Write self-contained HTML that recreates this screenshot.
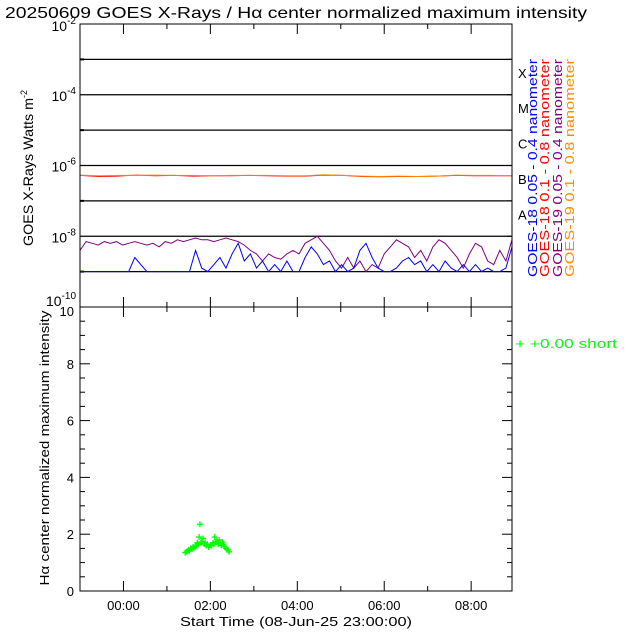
<!DOCTYPE html>
<html><head><meta charset="utf-8"><style>
body{margin:0;background:#fff;}
svg{display:block;font-family:"Liberation Sans","DejaVu Sans",sans-serif;}
</style></head><body>
<svg id="chart" width="640" height="640" viewBox="0 0 640 640">
<rect width="640" height="640" fill="#fff"/>
<text x="5" y="18" font-size="16" fill="#000" textLength="582" lengthAdjust="spacingAndGlyphs">20250609 GOES X-Rays / Hα center normalized maximum intensity</text>
<g id="topg"></g><g id="botg"></g>
<text transform="translate(33,246) rotate(-90)" font-size="14"><tspan textLength="148" lengthAdjust="spacingAndGlyphs">GOES X-Rays Watts m</tspan><tspan dy="-6" font-size="9">-2</tspan></text>
<text transform="translate(49,448) rotate(-90)" text-anchor="middle" font-size="13" textLength="275" lengthAdjust="spacingAndGlyphs">Hα center normalized maximum intensity</text>
<text x="296" y="626" text-anchor="middle" font-size="13" textLength="232" lengthAdjust="spacingAndGlyphs">Start Time (08-Jun-25 23:00:00)</text>
<text transform="translate(537,277) rotate(-90)" font-size="13" fill="#0000ff" textLength="218" lengthAdjust="spacingAndGlyphs">GOES-18 0.05 - 0.4 nanometer</text>
<text transform="translate(549,277) rotate(-90)" font-size="13" fill="#ff0000" textLength="218" lengthAdjust="spacingAndGlyphs">GOES-18 0.1  - 0.8 nanometer</text>
<text transform="translate(562,277) rotate(-90)" font-size="13" fill="#800080" textLength="218" lengthAdjust="spacingAndGlyphs">GOES-19 0.05 - 0.4 nanometer</text>
<text transform="translate(574,277) rotate(-90)" font-size="13" fill="#ff8c00" textLength="218" lengthAdjust="spacingAndGlyphs">GOES-19 0.1  - 0.8 nanometer</text>
<text x="515" y="348" font-size="13" fill="#00ff00" textLength="102" lengthAdjust="spacingAndGlyphs">+  +0.00 short</text>
</svg>
<script>
const purpleLog=[-8.4,-8.15,-8.2,-8.25,-8.15,-8.2,-8.15,-8.25,-8.2,-8.15,-8.2,-8.25,-8.2,-8.3,-8.15,-8.2,-8.1,-8.15,-8.1,-8.05,-8.1,-8.1,-8.15,-8.1,-8.05,-8.1,-8.15,-8.25,-8.4,-8.5,-8.7,-8.5,-8.6,-8.65,-8.5,-8.4,-8.5,-8.2,-8.1,-8.0,-8.2,-8.4,-8.7,-8.9,-8.6,-8.9,-8.7,-9.0,-8.8,-8.9,-8.5,-8.3,-8.1,-8.2,-8.3,-8.6,-8.4,-8.7,-8.3,-8.1,-8.2,-8.4,-8.6,-8.9,-8.5,-8.2,-8.3,-8.7,-8.8,-8.4,-8.7,-8.1];
const blueLog=[-9,-9,-9,-9,-9,-9,-9,-9,-9,-8.6,-8.8,-9,-9,-9,-9,-9,-9,-9,-9,-8.4,-8.9,-9,-8.8,-8.6,-8.9,-8.5,-8.2,-8.7,-8.5,-8.9,-8.7,-9,-8.8,-9,-8.7,-9,-9,-8.6,-8.3,-8.5,-8.8,-8.7,-9,-8.8,-9,-8.9,-8.4,-8.2,-8.6,-8.9,-9,-9,-8.9,-8.7,-8.6,-8.8,-8.7,-9,-8.8,-9,-8.7,-8.9,-9,-8.8,-9,-8.8,-9,-8.9,-9,-9,-8.9,-8.3];
const orangeLog=[-6.27,-6.29,-6.28,-6.28,-6.27,-6.28,-6.28,-6.29,-6.28,-6.28,-6.28,-6.29,-6.29,-6.26,-6.28,-6.3,-6.31,-6.3,-6.31,-6.3,-6.27,-6.28,-6.28,-6.29];
const redLog=[-6.28,-6.31,-6.3,-6.27,-6.29,-6.28,-6.3,-6.29,-6.29,-6.28,-6.29,-6.3,-6.3,-6.27,-6.28,-6.31,-6.32,-6.31,-6.31,-6.3,-6.28,-6.29,-6.29,-6.29];
const haTimes=[1.42,1.45,1.48,1.5,1.52,1.55,1.58,1.6,1.62,1.65,1.68,1.7,1.72,1.74,1.76,1.78,1.8,1.83,1.86,1.88,1.9,1.93,1.96,2.0,2.03,2.06,2.08,2.1,2.12,2.15,2.18,2.2,2.22,2.25,2.28,2.3,2.33,2.36,2.4,2.43];
const haVals=[1.35,1.38,1.4,1.45,1.42,1.5,1.48,1.55,1.52,1.58,1.6,1.7,1.65,1.9,2.35,1.7,1.72,1.85,1.65,1.7,1.6,1.65,1.55,1.62,1.6,1.7,1.65,1.9,1.72,1.75,1.65,1.8,1.7,1.6,1.72,1.65,1.55,1.5,1.45,1.38];
const xTickLabels=["00:00","02:00","04:00","06:00","08:00"];
const xTickHours=[0,2,4,6,8];
const yTickBot=[0,2,4,6,8,10];
const classLetters=["A","B","C","M","X"];

const NS="http://www.w3.org/2000/svg";
const L=80,R=512,T1=24,B1=307,T2=307,B2=591,T0=-1,TEND=8.94;
const xs=h=>L+(h-T0)/(TEND-T0)*(R-L);
const yTop=lg=>T1+(-2-lg)/8*(B1-T1);
const yBot=v=>B2-v/10*(B2-T2);
function mk(tag,attrs,parent){const e=document.createElementNS(NS,tag);for(const k in attrs)e.setAttribute(k,attrs[k]);parent.appendChild(e);return e;}
const topG=document.getElementById('topg'),botG=document.getElementById('botg');

for(let d=-9;d<=-3;d++){const l=mk('line',{x1:L,x2:R,y1:yTop(d),y2:yTop(d),stroke:'#000','stroke-width':1.3},topG);

}
[-2,-4,-6,-8,-10].forEach(d=>{const t=mk('text',{x:L-4,y:yTop(d)+(d==-2?7:(d==-10?-1:6)),'text-anchor':'end','font-size':14},topG);


t.innerHTML='10<tspan dy="-7" font-size="10">'+d+'</tspan>';});
[-3,-5,-7,-9].forEach(d=>{const l=mk('line',{x1:L,x2:L+4,y1:yTop(d),y2:yTop(d),stroke:'#000','stroke-width':2},topG);

});
classLetters.forEach((c,i)=>{const t=mk('text',{x:518,y:yTop(-8+i)-17,'font-size':13},topG);


t.textContent=c;});
function series(arr,color,name){const pts=arr.map((v,i)=>xs(T0+i*(TEND-T0)/(arr.length-1)).toFixed(1)+','+yTop(v).toFixed(1)).join(' ');
const p=mk('polyline',{points:pts,fill:'none',stroke:color,'stroke-width':1},topG);

}
series(purpleLog,'#800080','goes19-short-line');
series(blueLog,'#0000ff','goes18-short-line');
series(redLog,'#ff0000','goes18-long-line');
series(orangeLog,'#ff8c00','goes19-long-line');
const f1=mk('rect',{x:L,y:T1,width:R-L,height:B1-T1,fill:'none',stroke:'#000','stroke-width':1},topG);


const f2=mk('rect',{x:L,y:T2,width:R-L,height:B2-T2,fill:'none',stroke:'#000','stroke-width':1},botG);


for(let h=0;h<=8;h++){const len=h%2==0?10:5;
[[T1,1],[B1,-1],[T2,1],[B2,-1]].forEach(([y,s])=>{const l=mk('line',{x1:xs(h),x2:xs(h),y1:y,y2:y+s*len,stroke:'#000'},botG);

});}
xTickHours.forEach((h,i)=>{const t=mk('text',{x:xs(h),y:610,'text-anchor':'middle','font-size':13},botG);


t.textContent=xTickLabels[i];});
for(let v=0;v<=10;v+=0.5){const len=v%2==0?10:5;
[[L,1],[R,-1]].forEach(([x,s])=>{const l=mk('line',{x1:x,x2:x+s*len,y1:yBot(v),y2:yBot(v),stroke:'#000'},botG);

});}
yTickBot.forEach(v=>{const t=mk('text',{x:L-6,y:yBot(v)+(v==10?9:5),'text-anchor':'end','font-size':13},botG);


t.textContent=v;});
for(let d=-9;d<=-3;d++){const l=mk('line',{x1:R,x2:R-5,y1:yTop(d),y2:yTop(d),stroke:'#000'},topG);

}
haTimes.forEach((h,i)=>{const x=xs(h),y=yBot(haVals[i]);
const p=mk('path',{d:`M${x-3},${y}h6M${x},${y-3}v6`,stroke:'#00ff00','stroke-width':1.3},botG);

});
</script>
</body></html>
